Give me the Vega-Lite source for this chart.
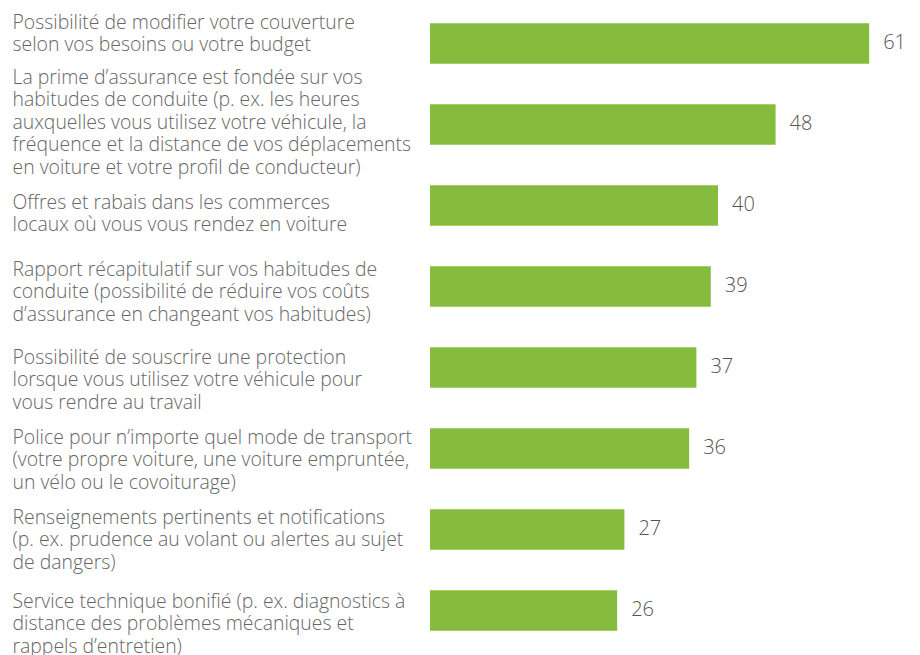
{
  "$schema": "https://vega.github.io/schema/vega-lite/v6.json",
  "autosize": {"type": "none"},
  "width": 480,
  "height": 648,
  "padding": {"left": 430, "top": 3, "right": 10, "bottom": 4},
  "background": "white",
  "config": {"view": {"stroke": null}},
  "data": {"values": [
    {"label": "Possibilité de modifier votre couverture|selon vos besoins ou votre budget", "value": 61},
    {"label": "La prime d’assurance est fondée sur vos|habitudes de conduite (p. ex. les heures|auxquelles vous utilisez votre véhicule, la|fréquence et la distance de vos déplacements|en voiture et votre profil de conducteur)", "value": 48},
    {"label": "Offres et rabais dans les commerces|locaux où vous vous rendez en voiture", "value": 40},
    {"label": "Rapport récapitulatif sur vos habitudes de|conduite (possibilité de réduire vos coûts|d’assurance en changeant vos habitudes)", "value": 39},
    {"label": "Possibilité de souscrire une protection|lorsque vous utilisez votre véhicule pour|vous rendre au travail", "value": 37},
    {"label": "Police pour n’importe quel mode de transport|(votre propre voiture, une voiture empruntée,|un vélo ou le covoiturage)", "value": 36},
    {"label": "Renseignements pertinents et notifications|(p. ex. prudence au volant ou alertes au sujet|de dangers)", "value": 27},
    {"label": "Service technique bonifié (p. ex. diagnostics à|distance des problèmes mécaniques et|rappels d’entretien)", "value": 26}
  ]},
  "encoding": {
    "y": {
      "field": "label", "type": "nominal", "sort": null,
      "scale": {"paddingInner": 0.5, "paddingOuter": 0.25},
      "axis": {
        "title": null, "domain": false, "ticks": false,
        "labelExpr": "split(datum.label, '|')",
        "labelAlign": "left", "labelBaseline": "middle",
        "labelPadding": 418, "labelLimit": 430,
        "labelFont": "Open Sans", "labelFontWeight": 300, "labelFontSize": 19.4,
        "labelColor": "#666666", "labelLineHeight": 22.6,
        "labelOffset": {
          "condition": [
            {"test": "indexof(datum.value, 'Possibilité de modifier') == 0", "value": -21},
            {"test": "indexof(datum.value, 'La prime') == 0", "value": -47},
            {"test": "indexof(datum.value, 'Offres') == 0", "value": -3},
            {"test": "indexof(datum.value, 'Rapport') == 0", "value": -17},
            {"test": "indexof(datum.value, 'Possibilité de souscrire') == 0", "value": -10},
            {"test": "indexof(datum.value, 'Police') == 0", "value": -11},
            {"test": "indexof(datum.value, 'Renseignements') == 0", "value": -12}
          ],
          "value": -9
        }
      }
    },
    "x": {
      "field": "value", "type": "quantitative",
      "scale": {"domain": [0, 66.67], "nice": false},
      "axis": null
    }
  },
  "layer": [
    {"mark": {"type": "bar", "color": "#86BC3E"}},
    {"mark": {"type": "text", "align": "left", "baseline": "middle", "dx": 14, "dy": -1, "font": "Open Sans", "fontWeight": 300, "fontSize": 20, "color": "#555555"},
     "encoding": {"text": {"field": "value", "type": "quantitative"}}}
  ]
}
